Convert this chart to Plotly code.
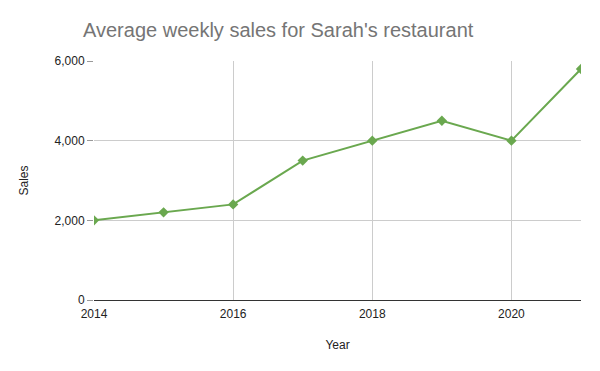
import plotly.graph_objects as go

years = [2014, 2015, 2016, 2017, 2018, 2019, 2020, 2021]
sales = [2000, 2200, 2400, 3500, 4000, 4500, 4000, 5800]
y_ticks = [0, 2000, 4000, 6000]
y_tick_labels = ["0", "2,000", "4,000", "6,000"]
x_ticks = [2014, 2016, 2018, 2020]

W, H = 584, 355

fig = go.Figure()
fig.add_trace(go.Scatter(
    x=years, y=sales, mode="lines+markers",
    line=dict(color="#6aa84f", width=2),
    marker=dict(symbol="diamond", size=8, color="#6aa84f"),
    showlegend=False,
))

fig.update_layout(
    width=W, height=H,
    margin=dict(l=86, r=11, t=53, b=63),
    paper_bgcolor="white", plot_bgcolor="white",
    font=dict(family="Liberation Sans, Arial, sans-serif", size=12, color="#222222"),
    title=dict(text="Average weekly sales for Sarah's restaurant",
               x=75/W, xanchor="left", y=1-22/H, yanchor="middle",
               font=dict(size=20, color="#757575")),
)
fig.update_xaxes(
    range=[2014, 2021], tickvals=x_ticks, showgrid=True, gridcolor="#cccccc",
    showline=True, linecolor="#333333", linewidth=1, zeroline=False,
    title=dict(text="Year", standoff=20, font=dict(size=12)),
    ticks="", ticklabelstandoff=3, tickfont=dict(size=12, color="#222222"),
)
fig.update_yaxes(
    range=[0, 6000], tickvals=y_ticks, ticktext=y_tick_labels,
    showgrid=True, gridcolor="#cccccc", zeroline=False,
    ticks="outside", ticklen=6, tickcolor="#999999",
    title=dict(text="Sales", standoff=23, font=dict(size=12)),
    tickfont=dict(size=12, color="#222222"),
)

fig.write_html("out.html")
